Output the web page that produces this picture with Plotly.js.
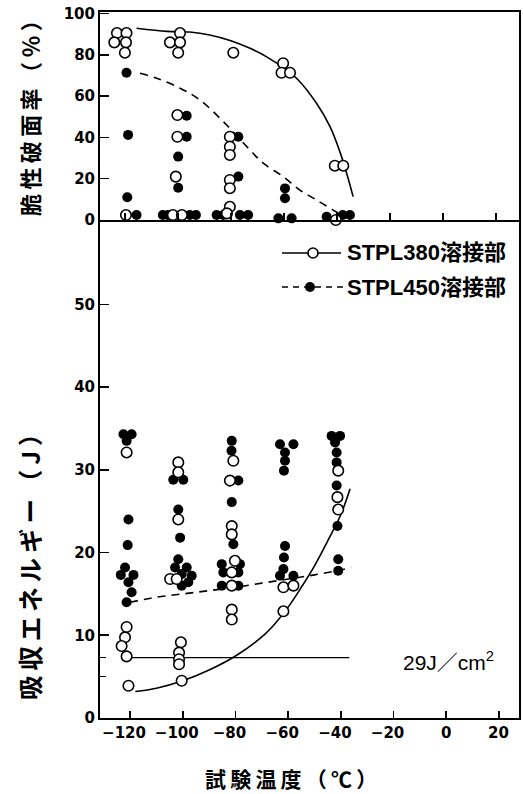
<!DOCTYPE html>
<html>
<head>
<meta charset="utf-8">
<script src="https://cdn.plot.ly/plotly-3.0.1.min.js"></script>
<style>html,body{margin:0;padding:0;background:#fff;}#chart{width:523px;height:794px;}</style>
</head>
<body>
<div id="chart"></div>
<script>
// ---------- data ----------
// Top panel: brittle fracture ratio (%)
const brittleT380 = [-123,-119.4,-124,-119.6,-120,-119.6, -103,-99.2,-99.2,-99.9,-100.2,-100.2,-100.8,-101.9,-98.5, -79.1,-80.4,-80.4,-80.4,-80.4,-80.4,-80.4,-81.5, -60.3,-60.9,-57.7, -40.8,-37.6,-40.4];
const brittle380  = [90.5,90.5,86,86,81,2.4, 86,90.5,86,81,50.8,40.3,21,2.4,2.4, 81,40.3,35.5,31.5,19.4,15.4,6.4,3.2, 75.9,71.3,71.3, 26.3,26.3,0];
const brittleT450 = [-119.4,-118.8,-119.1,-115.6, -96.7,-96.7,-99.9,-99.9,-105.7,-103.8,-95.5,-93.2, -77.2,-77.2,-85.4,-82.9,-76.6,-73.5, -59.6,-59.6,-62.1,-57.1, -43.9,-37.8,-35.1];
const brittle450  = [71.3,41.2,11,2.4, 50.5,40.3,30.7,15.6,2.4,2.4,2.4,2.4, 40.3,21,2.4,2.4,2.4,2.4, 15.3,10.5,0.8,0.8, 1.6,2.4,2.4];
const brittleCurveT380 = [-115.6,-104,-95.5,-88,-80,-72.8,-66.5,-60,-54.6,-47.7,-42.6,-38.9,-36.2,-33.9];
const brittleCurve380  = [92.8,91.3,91,89.6,86.8,83.1,79,73.5,67.8,56.5,45.2,33.1,22,11.3];
const brittleCurveT450 = [-114.3,-108,-99.2,-91.7,-81.6,-72.8,-67.8,-60.3,-54,-47.7,-41.4,-39.6];
const brittleCurve450  = [71,68.6,63.8,58.1,46,33.9,27.5,21,14.5,9.7,4.8,3.4];

// Bottom panel: absorbed energy (J)
const energyT380 = [-121.3,-121.3,-121.9,-123.2,-121.3,-120.6, -101.7,-101.7,-101.7,-104.8,-102.3,-100.7,-101.4,-101.4,-101.4,-100.4, -80.8,-82.1,-81.4,-81.4,-80.2,-81.4,-81.4,-81.4,-81.4, -61.8,-58,-61.8, -41,-41.3,-41];
const energy380  = [32.1,11,9.75,8.7,7.45,3.9, 30.9,29.7,24,16.8,16.8,9.15,7.9,7.1,6.5,4.5, 31.1,28.7,23.2,22.2,19,17.6,16,13.1,11.9, 15.8,16,12.9, 29.9,26.7,25.2];
const energyT450 = [-122.5,-119.4,-121.3,-120.6,-120.9,-121.9,-123.5,-118.7,-120.6,-119.4,-121.3, -103.6,-99.8,-101.7,-101,-101.7,-102.9,-98.5,-100.4,-96.6,-100.4,-97.9, -81.4,-81.5,-78.9,-81.4,-80.8,-85.2,-78.3,-84.6,-78.9,-85.2,-78.9, -63.1,-58,-61.2,-61.2,-61.6,-61.2,-61.6,-61.8,-63.1,-58, -43.5,-40.3,-42.2,-41.6,-41.6,-41.6,-41.3,-41,-41];
const energy450  = [34.3,34.3,33.5,24,20.9,18.2,17.3,17.3,16.4,15.2,14, 28.8,28.8,25.2,21.8,19.2,18.2,18.2,17.4,17.2,16,16.4, 33.5,32.3,28.7,26.1,21,18.6,18.6,17.6,17.6,16,16, 33.1,33.1,32.1,31.1,29.9,20.8,19.4,18,17.2,17.2, 34.1,34.1,33.3,32.1,30.9,28.1,23.2,19.2,17.8];
const energyCurveT380 = [-118,-110,-100,-90,-80,-70,-65,-60,-55,-50,-45,-40,-36.5];
const energyCurve380  = [3.2,3.6,4.5,5.8,7.5,9.8,11.4,13.4,15.8,18.4,21.4,24.6,27.7];
const energyCurveT450 = [-120,-110,-100,-90,-80,-70,-60,-50,-40,-36];
const energyCurve450  = [14,14.6,15,15.4,15.8,16.3,16.8,17.3,17.9,18.2];
const refLineT = [-121.3,-36.8];
const refLineValue = [7.3,7.3];

// tick labels
const xTickVals = [-120,-100,-80,-60,-40,-20,0,20];
const xTickText = ['\u2212120','\u2212100','\u221280','\u221260','\u221240','\u221220','0','20'];
const topYTicks = [0,20,40,60,80,100];
const bottomYTicks = [0,10,20,30,40,50];
const bottomYMinorTicks = [5,7.3];

// ---------- text ----------
const seriesNames = ['STPL380溶接部','STPL450溶接部'];
const topYTitle = '脆性破面率（％）';
const bottomYTitle = '吸収エネルギー（J）';
const xTitle = '試験温度（℃）';
const refLabel = '29J／cm<sup>2</sup>';

// ---------- helpers ----------
const spaced = s => Array.from(s).join('\u2009');
const negIdx = xTickVals.map((v, i) => i).filter(i => xTickVals[i] < 0);
const posIdx = xTickVals.map((v, i) => i).filter(i => xTickVals[i] >= 0);

const tickFont = {family:'DejaVu Sans', size:15, color:'#000', weight:'bold'};
const cjkFont = {family:'Noto Sans CJK JP', size:22, color:'#000', weight:'bold'};
const lw = 1.6;

const openMarker = {symbol:'circle', size:10.5, color:'#fff', line:{color:'#000', width:1.6}};
const fillMarker = {symbol:'circle', size:10, color:'#000', line:{color:'#000', width:0}};

const traces = [
  // top panel
  {x:brittleCurveT380, y:brittleCurve380, xaxis:'x2', yaxis:'y2', mode:'lines', line:{color:'#000', width:lw, shape:'spline'}},
  {x:brittleCurveT450, y:brittleCurve450, xaxis:'x2', yaxis:'y2', mode:'lines', line:{color:'#000', width:lw, dash:'8px,6px', shape:'spline'}},
  {x:brittleT450, y:brittle450, xaxis:'x2', yaxis:'y2', mode:'markers', marker:fillMarker, cliponaxis:false},
  {x:brittleT380, y:brittle380, xaxis:'x2', yaxis:'y2', mode:'markers', marker:openMarker, cliponaxis:false},
  // bottom panel
  {x:refLineT, y:refLineValue, xaxis:'x', yaxis:'y', mode:'lines', line:{color:'#000', width:1.1}},
  {x:energyCurveT380, y:energyCurve380, xaxis:'x', yaxis:'y', mode:'lines', line:{color:'#000', width:lw, shape:'spline'}},
  {x:energyCurveT450, y:energyCurve450, xaxis:'x', yaxis:'y', mode:'lines', line:{color:'#000', width:lw, dash:'8px,6px', shape:'spline'}},
  {x:energyT450, y:energy450, xaxis:'x', yaxis:'y', mode:'markers', marker:fillMarker},
  {x:energyT380, y:energy380, xaxis:'x', yaxis:'y', mode:'markers', marker:openMarker}
];

const W = 523, H = 794, L = 100, R = 4, T = 12, B = 76;
const pw = W - L - R, ph = H - T - B;
const px = v => (v - L) / pw;
const py = v => (H - B - v) / ph;
const split = py(220);
const xRangeBottom = [-131.4, 27.6];
const xRangeTop = [-129.4, 28.7];

const axisCommon = {showline:true, linecolor:'#000', linewidth:2, ticks:'inside', tickcolor:'#000', tickwidth:1.6, showgrid:false, zeroline:false, tickfont:tickFont, fixedrange:true, tickangle:0};

const legendFont = {family:'Liberation Sans, Noto Sans CJK JP', size:22, color:'#000', weight:'bold'};

// labels of the non-negative temperature ticks are centred on their ticks (annotations on the x data axis)
const posTickLabels = posIdx.map(i => ({
  text:xTickText[i], xref:'x', yref:'paper', x:xTickVals[i], y:py(733.5), showarrow:false, font:tickFont, xanchor:'center', yanchor:'middle'
}));

const layout = {
  width:W, height:H,
  margin:{l:L, r:R, t:T, b:B, pad:0},
  paper_bgcolor:'#fff', plot_bgcolor:'#fff',
  showlegend:false,
  font:{family:'DejaVu Sans', color:'#000'},
  // bottom x axis: labelled ticks for negative temperatures (shifted so the digits sit on the tick), plain ticks at 0 and 20
  xaxis: Object.assign({}, axisCommon, {domain:[0,1], anchor:'y', range:xRangeBottom, tickmode:'array',
          tickvals:negIdx.map(i => xTickVals[i]), ticktext:negIdx.map(i => xTickText[i]), ticklen:7, mirror:false, ticklabelshift:-6,
          minor:{tickmode:'array', tickvals:posIdx.map(i => xTickVals[i]), ticklen:7, tickcolor:'#000', tickwidth:1.6, ticks:'inside'}}),
  yaxis: Object.assign({}, axisCommon, {domain:[0,split], anchor:'x', range:[0,60.2], tickmode:'array', tickvals:bottomYTicks, ticklen:9, mirror:true,
          minor:{tickmode:'array', tickvals:bottomYMinorTicks, ticklen:6, tickcolor:'#000', tickwidth:1.6, ticks:'inside'}}),
  xaxis2: Object.assign({}, axisCommon, {domain:[0,1], anchor:'y2', range:xRangeTop, tickmode:'array', tickvals:xTickVals, showticklabels:false, ticklen:7, mirror:true}),
  yaxis2: Object.assign({}, axisCommon, {domain:[split,1], anchor:'x2', range:[0,100.7], tickmode:'array', tickvals:topYTicks, ticklen:9, mirror:true}),
  annotations:[
    {text:spaced(topYTitle), xref:'paper', yref:'paper', x:px(29), y:py(113), textangle:-90, showarrow:false, font:cjkFont, xanchor:'center', yanchor:'middle'},
    {text:spaced(bottomYTitle), xref:'paper', yref:'paper', x:px(29), y:py(561), textangle:-90, showarrow:false, font:Object.assign({}, cjkFont, {size:24.5}), xanchor:'center', yanchor:'middle'},
    {text:spaced(xTitle), xref:'paper', yref:'paper', x:px(291), y:py(778), showarrow:false, font:Object.assign({}, cjkFont, {size:21}), xanchor:'center', yanchor:'middle'},
    {text:refLabel, xref:'paper', yref:'paper', x:px(448), y:py(661), showarrow:false, font:{family:'Liberation Sans, Noto Sans CJK JP', size:21, color:'#000'}, xanchor:'center', yanchor:'middle'},
    {text:seriesNames[0], xref:'paper', yref:'paper', x:px(345), y:py(253), showarrow:false, font:legendFont, xanchor:'left', yanchor:'middle'},
    {text:seriesNames[1], xref:'paper', yref:'paper', x:px(345), y:py(287), showarrow:false, font:legendFont, xanchor:'left', yanchor:'middle'}
  ].concat(posTickLabels),
  shapes:[
    {type:'line', xref:'paper', yref:'paper', x0:px(282), x1:px(341), y0:py(253), y1:py(253), line:{color:'#000', width:lw}},
    {type:'circle', xref:'paper', yref:'paper', xsizemode:'pixel', ysizemode:'pixel', xanchor:px(313), yanchor:py(253), x0:-5, x1:5, y0:-5, y1:5, fillcolor:'#fff', line:{color:'#000', width:1.6}},
    {type:'line', xref:'paper', yref:'paper', x0:px(282), x1:px(344), y0:py(287), y1:py(287), line:{color:'#000', width:lw, dash:'6px,5px'}},
    {type:'circle', xref:'paper', yref:'paper', xsizemode:'pixel', ysizemode:'pixel', xanchor:px(310), yanchor:py(287), x0:-5, x1:5, y0:-5, y1:5, fillcolor:'#000', line:{color:'#000', width:0}}
  ]
};

Plotly.newPlot('chart', traces, layout, {displayModeBar:false, staticPlot:true});
</script>
</body>
</html>
